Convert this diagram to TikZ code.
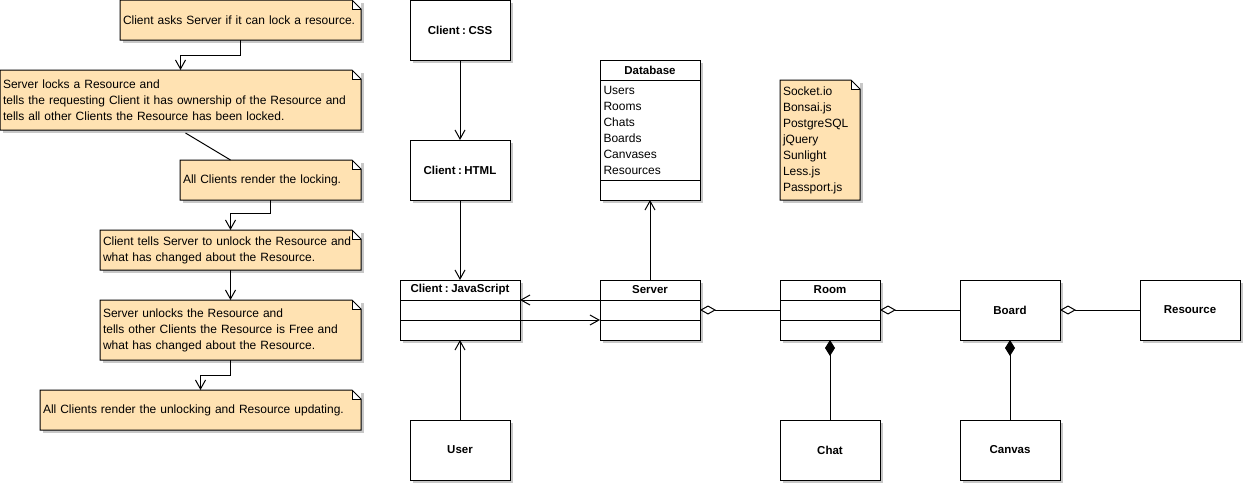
\documentclass[tikz,border=0pt]{standalone}
\usepackage{fontspec}
\setmainfont{Liberation Sans}
\usetikzlibrary{arrows.meta,shadows}
\definecolor{notefill}{RGB}{255,226,178}
\definecolor{shadowgray}{RGB}{200,200,200}
\newcommand{\notefont}{\fontsize{12}{16}\selectfont}
\newcommand{\classfont}{\fontsize{11.5}{14}\selectfont\bfseries\frenchspacing\spaceskip=2.5pt}
% folded corner and outline of a note
\newcommand{\notecorner}[1]{%
  \fill[white] ([xshift=-9pt]#1.north east) rectangle ([yshift=-9pt]#1.north east);
  \draw ([xshift=-9pt]#1.north east) -- (#1.north west) -- (#1.south west) -- (#1.south east) -- ([yshift=-9pt]#1.north east) -- cycle;
  \draw ([xshift=-9pt]#1.north east) |- ([yshift=-9pt]#1.north east);
}
\tikzset{
  umlshadow/.style={drop shadow={shadow xshift=3pt,shadow yshift=-3pt,fill=shadowgray,opacity=1}},
  note/.style={fill=notefill,anchor=north west,inner xsep=3pt,inner ysep=0pt,outer sep=0pt,align=left,font=\notefont,umlshadow},
  classbox/.style={draw,fill=white,minimum width=100pt,minimum height=60pt,inner sep=0pt,outer sep=0pt,font=\classfont,umlshadow},
  dep/.style={-{Straight Barb[length=9pt,width=10pt]}},
  agg/.style={{Diamond[fill=white,length=16pt,width=9pt]}-},
  comp/.style={{Diamond[length=16pt,width=10pt]}-}
}
\begin{document}
\begin{tikzpicture}[x=1pt,y=-1pt,line width=1pt]
	\useasboundingbox (0,0) rectangle (1245,485);
	% notes
	\node[note,minimum width=241pt,text width=235pt,minimum height=40pt] (lock) at (120,0) {Client asks Server if it can lock a resource.};
	\node[note,minimum width=361pt,text width=355pt,minimum height=60pt] (owned) at (0,70) {Server locks a Resource and\\tells the requesting Client it has ownership of the Resource and\\tells all other Clients the Resource has been locked.};
	\node[note,minimum width=181pt,text width=175pt,minimum height=40pt] (rendlock) at (180,160) {All Clients render the locking.};
	\node[note,minimum width=261pt,text width=255pt,minimum height=40pt] (unlock) at (100,230) {Client tells Server to unlock the Resource and\\what has changed about the Resource.};
	\node[note,minimum width=261pt,text width=255pt,minimum height=60pt] (freed) at (100,300) {Server unlocks the Resource and\\tells other Clients the Resource is Free and\\what has changed about the Resource.};
	\node[note,minimum width=321pt,text width=315pt,minimum height=40pt] (rendfree) at (40,390) {All Clients render the unlocking and Resource updating.};
	\node[note,minimum width=80pt,text width=74pt,minimum height=120pt] (libs) at (780,80) {Socket.io\\Bonsai.js\\PostgreSQL\\jQuery\\Sunlight\\Less.js\\Passport.js};
	\notecorner{lock}
	\notecorner{owned}
	\notecorner{rendlock}
	\notecorner{unlock}
	\notecorner{freed}
	\notecorner{rendfree}
	\notecorner{libs}
	\draw[dep] (lock.south) -- ++(0,15) -| (owned.north);
	\draw ([xshift=5pt,yshift=-3pt]owned.south) -- ([xshift=-40pt]rendlock.north);
	\draw[dep] (rendlock.south) -- ++(0,13) -| (unlock.north);
	\draw[dep] (unlock) -- (freed);
	\draw[dep] (freed.south) -- ++(0,15) -| (rendfree.north);
	% classes
	\node[classbox] (css) at (460,30) {Client : CSS};
	\node[classbox] (html) at (460,170) {Client : HTML};
	\node[classbox,minimum width=120pt] (js) at (460,310) {};
	\node[classbox] (user) at (460,450) {User};
	\node[classbox,minimum height=140pt] (db) at (650,130) {};
	\node[classbox] (server) at (650,310) {};
	\node[classbox] (room) at (830,310) {};
	\node[classbox] (board) at (1010,310) {Board};
	\node[classbox] (resource) at (1190,310) {Resource};
	\node[classbox] (chat) at (830,450) {Chat};
	\node[classbox] (canvas) at (1010,450) {Canvas};
	\foreach \c/\t in {js/Client : JavaScript,server/Server,room/Room,db/Database}
		\node[font=\classfont] (\c title) at ([yshift=-10pt]\c.north) {\t};
	\foreach \c in {js,server,room}{
		\draw ([yshift=-20pt]\c.north west) -- ([yshift=-20pt]\c.north east);
		\draw ([yshift=-40pt]\c.north west) -- ([yshift=-40pt]\c.north east);
	}
	\draw ([yshift=-20pt]db.north west) -- ([yshift=-20pt]db.north east);
	\draw ([yshift=-120pt]db.north west) -- ([yshift=-120pt]db.north east);
	\node[anchor=north west,align=left,inner sep=0pt,font=\notefont] (dbattr) at ([xshift=3pt,yshift=-26pt]db.north west) {Users\\Rooms\\Chats\\Boards\\Canvases\\Resources};
	% connectors
	\draw[dep] (css) -- (html);
	\draw[dep] (html) -- (js);
	\draw[dep] (user) -- (js);
	\draw[dep] (server) -- (db);
	\draw[dep] ([yshift=10pt]server.west) -- ([yshift=10pt]js.east);
	\draw[dep] ([yshift=-10pt]js.east) -- ([yshift=-10pt]server.west);
	\draw[agg] (server) -- (room);
	\draw[agg] (room) -- (board);
	\draw[agg] (board) -- (resource);
	\draw[comp] (room) -- (chat);
	\draw[comp] (board) -- (canvas);
\end{tikzpicture}
\end{document}
